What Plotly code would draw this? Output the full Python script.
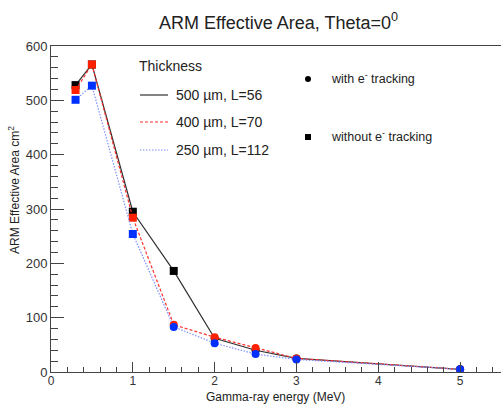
import plotly.graph_objects as go

# ---- data ----
energy = [0.3, 0.5, 1.0, 1.5, 2.0, 2.5, 3.0, 5.0]
area_500 = [528, 566, 295, 186, 62, 40, 25, 5]
area_400 = [519, 566, 284, 87, 64, 44, 25, 5]
area_250 = [501, 527, 254, 83, 53, 33, 23, 5]
tracking_500 = [False, False, False, False, True, True, True, True]
tracking_400 = [False, False, False, True, True, True, True, True]
tracking_250 = [False, False, False, True, True, True, True, True]
series_names = ["500 \u00b5m, L=56", "400 \u00b5m, L=70", "250 \u00b5m, L=112"]

W, H = 501, 405
L, R, T, B = 51, 0, 46, 33
pw, ph = W - L - R, H - T - B


def px(x):
    return (x - L) / pw


def py(y):
    return (H - B - y) / ph


def syms(flags):
    return ["circle" if f else "square" for f in flags]


fig = go.Figure()
specs = [
    (area_500, tracking_500, "#303030", "#000000", "solid", 1.2),
    (area_400, tracking_400, "#ff3030", "#ff2000", "3px,2px", 1.2),
    (area_250, tracking_250, "#8090ff", "#0030ff", "1.5px,1.5px", 1.2),
]
for (vals, flags, lc, mc, dash, lw), name in zip(specs, series_names):
    fig.add_trace(go.Scatter(
        x=energy, y=vals, mode="lines+markers", name=name,
        line=dict(color=lc, dash=dash, width=lw),
        marker=dict(color=mc, size=8, symbol=syms(flags), line=dict(width=0)),
        showlegend=False,
    ))

font = "Liberation Sans, Arial, Helvetica, sans-serif"
axcol = "#444444"

fig.update_layout(
    width=W, height=H,
    margin=dict(l=L, r=R, t=T, b=B),
    paper_bgcolor="white", plot_bgcolor="white",
    font=dict(family=font, color="#222222"),
    xaxis=dict(range=[0, 5.5], dtick=1, ticks="inside", ticklen=10, tickcolor=axcol,
               showgrid=False, zeroline=False, showline=True, linecolor=axcol, linewidth=1,
               mirror=True, tickfont=dict(size=12, color="#333333"), ticklabelstandoff=-2,
               minor=dict(ticks="inside", dtick=0.2, ticklen=5, tickcolor=axcol)),
    yaxis=dict(range=[0, 600], dtick=100, ticks="inside", ticklen=13, tickcolor=axcol,
               showgrid=False, zeroline=False, showline=True, linecolor=axcol, linewidth=1,
               mirror=True, tickfont=dict(size=13, color="#333333"),
               minor=dict(ticks="inside", dtick=20, ticklen=7, tickcolor=axcol)),
)

ann = []
# title
ann.append(dict(text="ARM Effective Area, Theta=0<sup>0</sup>", x=px(278), y=py(22),
                xref="paper", yref="paper", showarrow=False, xanchor="center", yanchor="middle",
                font=dict(size=18, color="#222222")))
# axis titles
ann.append(dict(text="Gamma-ray energy (MeV)", x=px(275), y=py(405), xref="paper", yref="paper",
                showarrow=False, xanchor="center", yanchor="bottom", borderpad=0,
                font=dict(size=12, color="#222222")))
ann.append(dict(text="ARM Effective Area cm<sup>2</sup>", x=px(14), y=py(190), xref="paper", yref="paper",
                showarrow=False, textangle=-90, xanchor="center", yanchor="middle",
                font=dict(size=12, color="#222222")))
# thickness legend
ann.append(dict(text="Thickness", x=px(137), y=py(66), xref="paper", yref="paper", showarrow=False,
                xanchor="left", yanchor="middle", font=dict(size=14, color="#222222")))
leg_y = [95, 122, 150]
shapes = []
for (vals, flags, lc, mc, dash, lw), name, yy in zip(specs, series_names, leg_y):
    shapes.append(dict(type="line", xref="paper", yref="paper", x0=px(140), x1=px(168),
                       y0=py(yy), y1=py(yy), line=dict(color=lc, dash=dash, width=lw)))
    ann.append(dict(text=name, x=px(174), y=py(yy), xref="paper", yref="paper", showarrow=False,
                    xanchor="left", yanchor="middle", font=dict(size=14, color="#222222")))
# tracking legend
shapes.append(dict(type="circle", xref="paper", yref="paper", x0=px(305), x1=px(311),
                   y0=py(82), y1=py(76), fillcolor="black", line=dict(width=0)))
shapes.append(dict(type="rect", xref="paper", yref="paper", x0=px(305), x1=px(311),
                   y0=py(140), y1=py(134), fillcolor="black", line=dict(width=0)))
ann.append(dict(text="with e<sup>-</sup> tracking", x=px(329), y=py(78), xref="paper", yref="paper",
                showarrow=False, xanchor="left", yanchor="middle", font=dict(size=12.5, color="#222222")))
ann.append(dict(text="without e<sup>-</sup> tracking", x=px(329), y=py(136), xref="paper", yref="paper",
                showarrow=False, xanchor="left", yanchor="middle", font=dict(size=12.5, color="#222222")))

fig.update_layout(annotations=ann, shapes=shapes)
fig.write_html("out.html")
